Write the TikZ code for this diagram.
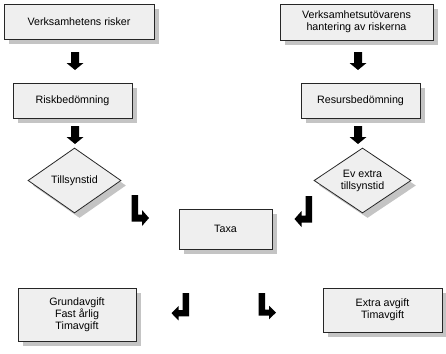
\documentclass[tikz,border=0pt]{standalone}
\usepackage{fontspec}
\setmainfont{Liberation Sans}
\usetikzlibrary{shapes.geometric}
\usetikzlibrary{shadows}

\definecolor{boxfill}{HTML}{EFEFEF}
\definecolor{boxshadow}{HTML}{C4C4C4}

\tikzset{
  every node/.style={font=\fontsize{10.7}{12}\selectfont},
  box/.style={draw=black!85, line width=0.8pt, fill=boxfill, align=center, inner sep=0pt,
    drop shadow={shadow xshift=5pt, shadow yshift=-5pt, fill=boxshadow, opacity=1}},
  choice/.style={box, diamond},
  downarrow/.pic={
    \fill (-4, -9) -- (4, -9) -- (4, 2) -- (8.5, 2) -- (0, 9) -- (-8.5, 2) -- (-4, 2) -- cycle;
  },
  bentarrow/.pic={
    \fill (0, 0) -- (6.5, 0) -- (6.5, 19.5) -- (10.5, 19.5) -- (10.5, 15)
      -- (17.5, 23) -- (10.5, 31) -- (10.5, 26.5) -- (0, 26.5) -- cycle;
  }
}

\begin{document}
\begin{tikzpicture}[x=1pt, y=-1pt]
    \useasboundingbox (0, 0) rectangle (446, 353);

    % left column
    \node [box, minimum width=150pt, minimum height=35pt] (risker) at (79, 21.5) {Verksamhetens risker};
    \node [box, minimum width=119pt, minimum height=35pt] (riskbed) at (72.5, 100.5) {Riskbedömning};
    \node [choice, minimum width=93pt, minimum height=65pt] (tillsyn) at (74.5, 180.5) {Tillsynstid};

    % right column
    \node [box, minimum width=153pt, minimum height=36pt] (hantering) at (356.5, 22) {Verksamhetsutövarens\\hantering av riskerna};
    \node [box, minimum width=119pt, minimum height=35pt] (resurs) at (360.5, 100.5) {Resursbedömning};
    \node [choice, minimum width=97pt, minimum height=65pt] (extra) at (362.5, 180.5) {Ev extra\\tillsynstid};

    \node [box, minimum width=93pt, minimum height=40pt] (taxa) at (225.5, 229) {Taxa};

    % bottom row
    \node [box, minimum width=118pt, minimum height=53pt] (grund) at (77, 314.5) {Grundavgift\\Fast årlig\\Timavgift};
    \node [box, minimum width=119pt, minimum height=44pt] (extraavgift) at (382.5, 310) {Extra avgift\\Timavgift};

    \pic at (75, 61) {downarrow};
    \pic at (75, 135) {downarrow};
    \pic at (358, 61) {downarrow};
    \pic at (358, 135) {downarrow};

    \pic at (131.5, 195) {bentarrow};
    \pic [xscale=-1] at (312, 196) {bentarrow};
    \pic [xscale=-1, yscale=0.88] at (189, 293) {bentarrow};
    \pic [yscale=0.85] at (258.5, 293) {bentarrow};
  \end{tikzpicture}
\end{document}
